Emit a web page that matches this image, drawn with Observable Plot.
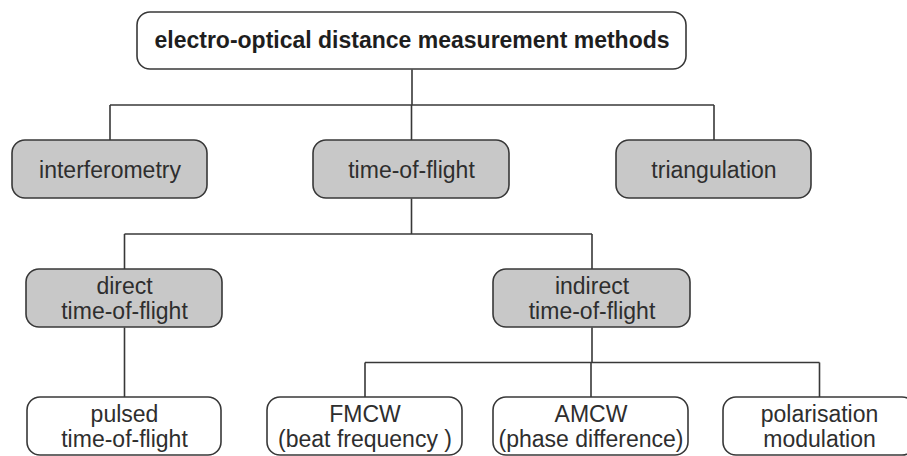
<!DOCTYPE html>
<html>
<head>
<meta charset="utf-8">
<script src="https://cdn.jsdelivr.net/npm/d3@7"></script>
<script src="https://cdn.jsdelivr.net/npm/@observablehq/plot@0.6"></script>
<style>
  html, body { margin: 0; padding: 0; background: #fff; overflow: hidden; }
  #chart svg { display: block; }
</style>
</head>
<body>
<div id="chart"></div>
<script>
// Node labels (tree order), their level and parent
const labels = [
  "electro-optical distance measurement methods",
  "interferometry",
  "time-of-flight",
  "triangulation",
  "direct\ntime-of-flight",
  "indirect\ntime-of-flight",
  "pulsed\ntime-of-flight",
  "FMCW\n(beat frequency )",
  "AMCW\n(phase difference)",
  "polarisation\nmodulation"
];
const parents = [null, 0, 0, 0, 2, 2, 4, 5, 5, 5];
const levels  = [0, 1, 1, 1, 2, 2, 3, 3, 3, 3];
const kinds   = ["root", "method", "method", "method", "method", "method", "leaf", "leaf", "leaf", "leaf"];
// Horizontal extent of each box (diagram units)
const left  = [137, 12, 313, 616, 26, 493, 27, 267, 493, 723];
const right = [686, 207, 509, 811, 222, 690, 221, 462, 688, 915];
// Vertical extent of each level (diagram units)
const levelTop    = [12, 140, 269, 397];
const levelBottom = [69, 198, 327, 455];

const nodes = labels.map((label, i) => ({
  label, kind: kinds[i], parent: parents[i], level: levels[i],
  x1: left[i], x2: right[i],
  y1: levelTop[levels[i]], y2: levelBottom[levels[i]],
  cx: (left[i] + right[i]) / 2,
  cy: (levelTop[levels[i]] + levelBottom[levels[i]]) / 2
}));

// connector segments derived from the tree
const segs = [];
nodes.forEach((p, pi) => {
  const kids = nodes.filter(n => n.parent === pi);
  if (!kids.length) return;
  if (kids.length === 1) {
    segs.push({x1: p.cx, y1: p.y2, x2: p.cx, y2: kids[0].y1});
    return;
  }
  const bus = (p.y2 + kids[0].y1) / 2;
  segs.push({x1: p.cx, y1: p.y2, x2: p.cx, y2: bus});
  const xs = kids.map(k => k.cx);
  segs.push({x1: d3.min(xs), y1: bus, x2: d3.max(xs), y2: bus});
  kids.forEach(k => segs.push({x1: k.cx, y1: bus, x2: k.cx, y2: k.y1}));
});

const fills = {root: "#ffffff", method: "#c8c8c8", leaf: "#ffffff"};
const stroke = "#383838";

const chart = Plot.plot({
  width: 907,
  height: 456,
  margin: 0,
  style: {background: "#ffffff", fontFamily: "'Liberation Sans', Arial, sans-serif"},
  x: {domain: [0, 907], range: [0, 907], axis: null},
  y: {domain: [0, 456], range: [0, 456], axis: null},
  marks: [
    Plot.link(segs, {x1: "x1", y1: "y1", x2: "x2", y2: "y2", stroke, strokeWidth: 1.6}),
    Plot.rect(nodes, {
      x1: "x1", x2: "x2", y1: "y1", y2: "y2",
      fill: d => fills[d.kind], stroke, strokeWidth: 1.6, rx: 13, ry: 13
    }),
    Plot.text(nodes.filter(d => d.kind !== "root"), {
      x: "cx", y: "cy", text: "label",
      fontSize: 23, lineHeight: 1.09, fill: "#2e2e2e",
      fontFamily: "'Liberation Sans', Arial, sans-serif"
    }),
    Plot.text(nodes.filter(d => d.kind === "root"), {
      x: "cx", y: "cy", text: "label",
      fontSize: 23, fontWeight: "bold", fill: "#1e1e1e",
      fontFamily: "'Liberation Sans', Arial, sans-serif"
    })
  ]
});
document.getElementById("chart").appendChild(chart);
</script>
</body>
</html>
